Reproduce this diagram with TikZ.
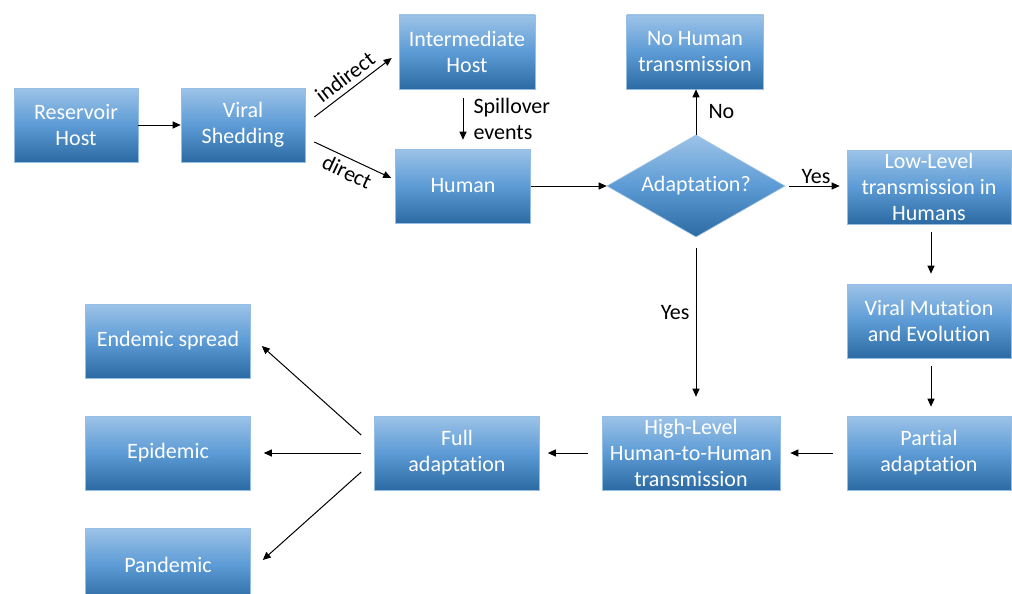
\documentclass[tikz,border=0pt]{standalone}
\usepackage{fontspec}
\setmainfont{Carlito}[Ligatures=NoCommon]
\usetikzlibrary{shapes.geometric,arrows.meta,calc}
\definecolor{boxtop}{RGB}{157,195,232}
\definecolor{boxmid}{RGB}{92,155,213}
\definecolor{boxbot}{RGB}{44,106,163}
\definecolor{boxline}{RGB}{150,190,228}
\tikzset{
  box/.style={rectangle, draw=boxline, line width=0.6pt, top color=boxtop, bottom color=boxbot, middle color=boxmid,
    text=white, align=center, font=\fontsize{22}{26}\selectfont, minimum width=#1, minimum height=74pt, inner xsep=2pt, inner ysep=0pt},
  box/.default=165pt,
  decision/.style={diamond, draw=boxline, line width=0.6pt, top color=boxtop, bottom color=boxbot, middle color=boxmid,
    text=white, font=\fontsize{22}{26}\selectfont, minimum width=178pt, minimum height=102pt, shape aspect=1.75, inner sep=0pt},
  arr/.style={-{Triangle[length=8pt,width=7pt]}, line width=1pt},
  lbl/.style={font=\fontsize{22}{26}\selectfont, text=black, inner sep=2pt}
}
\begin{document}
\begin{tikzpicture}[x=1pt, y=-1pt]
\useasboundingbox[fill=white] (0,0) rectangle (1012,594);
% boxes
\node[box=124pt] (rh) at (76,125) {Reservoir\\Host};
\node[box=124pt] (vs) at (243,125) {Viral\\Shedding};
\node[box=136pt] (ih) at (467,52) {Intermediate\\Host};
\node[box=135pt] (hu) at (463,186) {Human};
\node[box=137pt] (nh) at (695,52) {No Human\\transmission};
\node[decision] (ad) at (696,186) {Adaptation?};
\node[box=164pt] (ll) at (929,187) {Low-Level\\transmission in\\Humans};
\node[box=164pt] (vm) at (929,321) {Viral Mutation\\and Evolution};
\node[box=164pt] (pa) at (929,453) {Partial\\adaptation};
\node[box=178pt] (hl) at (691,453) {High-Level\\Human-to-Human\\transmission};
\node[box] (fa) at (457,453) {Full\\adaptation};
\node[box] (es) at (168,341) {Endemic spread};
\node[box] (ep) at (168,453) {Epidemic};
\node[box] (pd) at (168,565) {Pandemic};
% connectors
\draw[arr] (rh) -- (vs);
\draw[arr] ($(vs.east)+(9,-8)$) -- ($(ih.west)+(-7,6)$) node[lbl, midway, above=3pt, sloped] {indirect};
\draw[arr] ($(vs.east)+(9,17)$) -- ($(hu.west)+(-4,-8)$) node[lbl, midway, below=3pt, sloped] {direct};
\draw[arr, shorten <=9pt, shorten >=9pt] (hu.north |- ih.south) -- (hu.north)
  node[lbl, midway, right=8pt, align=left] {Spillover\\events};
\draw[arr] (ad.north) -- (ad.north |- nh.south) node[lbl, midway, right=10pt] {No};
\draw[arr] (hu) -- (ad);
\draw[arr, shorten <=4pt, shorten >=7pt] (ad.east) -- (ad.east -| ll.west) node[lbl, midway, above] {Yes};
\draw[arr, shorten <=11pt, shorten >=19pt] (ad.south) -- (ad.south |- hl.north) node[lbl, pos=0.42, left=4pt] {Yes};
\draw[arr, shorten <=8pt, shorten >=10pt] ([xshift=2pt]ll.south) -- ([xshift=2pt]vm.north);
\draw[arr, shorten <=8pt, shorten >=9pt] ([xshift=2pt]vm.south) -- ([xshift=2pt]pa.north);
\draw[arr, shorten <=14pt, shorten >=10pt] (pa) -- (hl);
\draw[arr, shorten <=14pt, shorten >=8pt] (hl) -- (fa);
\draw[arr] ($(fa.west)+(-13,-18)$) -- ($(es.east)+(11,5)$);
\draw[arr, shorten <=13pt, shorten >=13pt] (fa) -- (ep);
\draw[arr] ($(fa.west)+(-13,19)$) -- ($(pd.east)+(12,-5)$);
\end{tikzpicture}
\end{document}
